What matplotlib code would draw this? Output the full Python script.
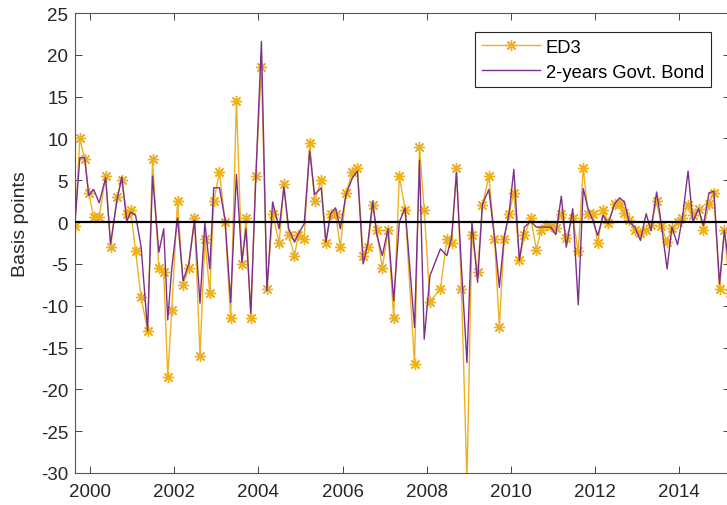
import matplotlib
matplotlib.use("Agg")
import matplotlib.pyplot as plt
from datetime import datetime

plt.rcParams['font.family'] = ['Liberation Sans', 'DejaVu Sans']
plt.rcParams['axes.unicode_minus'] = False

# Scheduled FOMC announcement dates
meeting_dates = [
    "1999-08-24", "1999-10-05", "1999-11-16", "1999-12-21",
    "2000-02-02", "2000-03-21", "2000-05-16", "2000-06-28", "2000-08-22", "2000-10-03", "2000-11-15", "2000-12-19",
    "2001-01-31", "2001-03-20", "2001-05-15", "2001-06-27", "2001-08-21", "2001-10-02", "2001-11-06", "2001-12-11",
    "2002-01-30", "2002-03-19", "2002-05-07", "2002-06-26", "2002-08-13", "2002-09-24", "2002-11-06", "2002-12-10",
    "2003-01-29", "2003-03-18", "2003-05-06", "2003-06-25", "2003-08-12", "2003-09-16", "2003-10-28", "2003-12-09",
    "2004-01-28", "2004-03-16", "2004-05-04", "2004-06-30", "2004-08-10", "2004-09-21", "2004-11-10", "2004-12-14",
    "2005-02-02", "2005-03-22", "2005-05-03", "2005-06-30", "2005-08-09", "2005-09-20", "2005-11-01", "2005-12-13",
    "2006-01-31", "2006-03-28", "2006-05-10", "2006-06-29", "2006-08-08", "2006-09-20", "2006-10-25", "2006-12-12",
    "2007-01-31", "2007-03-21", "2007-05-09", "2007-06-28", "2007-09-18", "2007-10-31", "2007-12-11",
    "2008-01-30", "2008-04-30", "2008-06-25", "2008-08-05", "2008-09-16", "2008-10-29", "2008-12-16",
    "2009-01-28", "2009-03-18", "2009-04-29", "2009-06-24", "2009-08-12", "2009-09-23", "2009-11-04", "2009-12-16",
    "2010-01-27", "2010-03-16", "2010-04-28", "2010-06-23", "2010-08-10", "2010-09-21", "2010-11-03", "2010-12-14",
    "2011-01-26", "2011-03-15", "2011-04-27", "2011-06-22", "2011-08-09", "2011-09-21", "2011-11-02", "2011-12-13",
    "2012-01-25", "2012-03-13", "2012-04-25", "2012-06-20", "2012-08-01", "2012-09-13", "2012-10-24", "2012-12-12",
    "2013-01-30", "2013-03-20", "2013-05-01", "2013-06-19", "2013-07-31", "2013-09-18", "2013-10-30", "2013-12-18",
    "2014-01-29", "2014-03-19", "2014-04-30", "2014-06-18", "2014-07-30", "2014-09-17", "2014-10-29", "2014-12-17",
    "2015-01-28", "2015-03-18",
]

# Change on announcement day, basis points
ed3 = [
    -0.5, 10.0, 7.5, 3.5,
    0.6, 0.6, 5.5, -3.0, 3.0, 5.0, 1.0, 1.5,
    -3.5, -9.0, -13.0, 7.5, -5.5, -6.0, -18.5, -10.5,
    2.5, -7.5, -5.5, 0.5, -16.0, -2.0, -8.5, 2.5,
    6.0, 0.0, -11.5, 14.5, -5.0, 0.5, -11.5, 5.5,
    18.5, -8.0, 1.0, -2.5, 4.5, -1.5, -4.0, -1.5,
    -2.0, 9.5, 2.5, 5.0, -2.5, 1.0, 1.0, -3.0,
    3.5, 6.0, 6.5, -4.0, -3.0, 2.0, -1.0, -5.5,
    -1.0, -11.5, 5.5, 1.5, -17.0, 9.0, 1.5,
    -9.5, -8.0, -2.0, -2.5, 6.5, -8.0, -31.0,
    -1.5, -6.0, 2.0, 5.5, -2.0, -12.5, -2.0, 1.0,
    3.5, -4.5, -1.6, 0.5, -3.3, -0.9, -0.4, -0.5,
    -0.7, 1.0, -1.9, 0.5, -3.5, 6.5, 1.0, 1.0,
    -2.5, 1.5, -0.1, 2.2, 2.2, 1.1, 0.3, -0.9,
    -1.3, -1.0, -0.4, 2.5, -0.5, -2.4, -0.7, 0.0,
    0.5, 2.0, 0.9, 1.6, -0.9, 2.2, 3.5, -8.0,
    -0.9, -8.5,
]

govt_2y = [
    0.0, 7.7, 7.7, 3.2,
    3.9, 2.3, 5.3, -2.6, 2.6, 5.4, 0.1, 1.2,
    0.8, -3.0, -13.0, 5.5, -3.6, -0.8, -11.7, -5.5,
    0.5, -7.0, -5.0, 0.2, -9.7, -0.1, -5.6, 4.1,
    4.1, 0.3, -9.6, 5.7, -4.8, -0.8, -10.9, 4.8,
    21.6, -8.2, 2.4, -0.8, 4.2, -0.8, -2.4, -1.4,
    -0.2, 8.5, 3.3, 4.1, -2.4, 1.0, 1.7, -0.8,
    3.3, 5.3, 6.1, -5.0, -2.6, 2.5, -1.5, -4.0,
    -0.8, -9.4, 0.0, 1.7, -12.6, 7.4, -14.0,
    -6.4, -3.2, -4.0, -1.8, 5.9, -5.4, -16.8,
    0.0, -7.2, 2.1, 3.9, -1.8, -7.8, -1.8, 1.0,
    6.3, -4.6, -0.6, 0.1, -0.6, -0.6, -0.6, -0.6,
    -1.5, 3.1, -3.0, 1.6, -9.9, 4.0, 1.6, 0.2,
    -1.6, 0.8, -0.2, 2.2, 2.9, 2.4, 0.0, -0.6,
    -2.2, 1.0, -1.0, 3.6, -0.3, -5.6, -0.6, -2.7,
    0.5, 6.1, 0.0, 1.6, -0.4, 3.5, 3.7, -7.4,
    -1.0, -6.0,
]

year_ticks = list(range(2000, 2015, 2))
y_ticks = list(range(-30, 26, 5))

dates = [datetime.strptime(d, "%Y-%m-%d") for d in meeting_dates]

W, H = 727, 506
fig = plt.figure(figsize=(W / 100, H / 100), dpi=100)
ax = fig.add_axes([75 / W, 32 / H, 655 / W, 460 / H])

axis_col = '#262626'
ax.plot(dates, ed3, color='#EDB120', lw=1.0, marker=(8, 2, 0), ms=8, mew=1.0,
        label='ED3', zorder=2)
ax.plot(dates, govt_2y, color='#7E2F8E', lw=1.0, label='2-years Govt. Bond', zorder=2)
ax.axhline(0, color='black', lw=1.6, zorder=3)

ax.set_xlim(dates[0], dates[-1])
ax.set_ylim(-30, 25)
ax.set_yticks(y_ticks)
ax.set_yticklabels([str(v) for v in y_ticks])
ax.set_xticks([datetime(y, 1, 1) for y in year_ticks])
ax.set_xticklabels([str(y) for y in year_ticks])

ax.tick_params(axis='both', direction='in', top=True, right=True, length=5.3,
               width=0.6, color=axis_col, labelcolor=axis_col, labelsize=13.5)
ax.tick_params(axis='y', pad=5)
ax.tick_params(axis='x', pad=7)
for s in ax.spines.values():
    s.set_color('#555555')
    s.set_linewidth(0.8)

ax.set_ylabel('Basis points', fontsize=14, color=axis_col)
ax.yaxis.set_label_coords((29 - 75) / 655, (474 - 224) / 460)

leg = ax.legend(loc='upper right', bbox_to_anchor=(710.7 / W, 1 - 33.3 / H),
                bbox_transform=fig.transFigure, borderaxespad=0, fontsize=13.2,
                fancybox=False, framealpha=1, edgecolor=axis_col,
                handlelength=3.2, handletextpad=0.3, labelspacing=0.42,
                borderpad=0.36)
leg.get_frame().set_linewidth(0.8)
for t in leg.get_texts():
    t.set_color('black')

fig.savefig('out.png', dpi=100)
